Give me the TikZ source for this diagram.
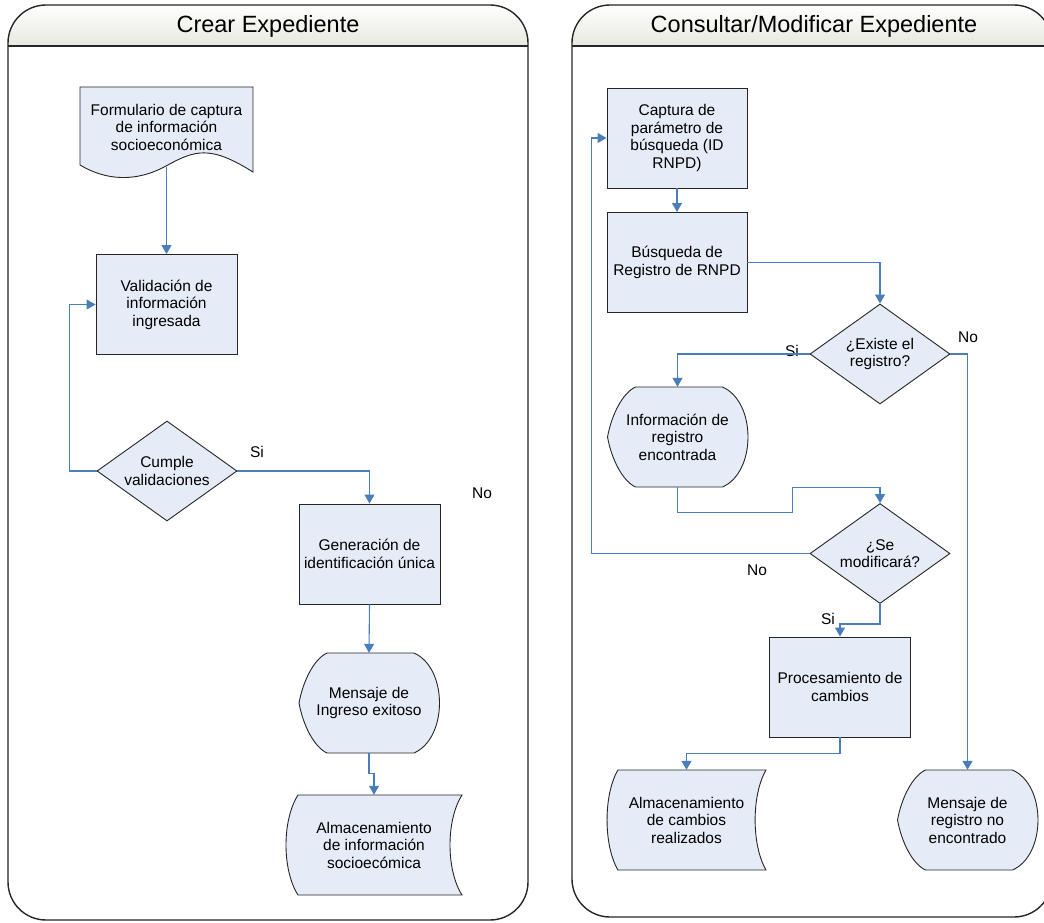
\documentclass[tikz,border=0pt]{standalone}
\usepackage{fontspec}
\setmainfont{Liberation Sans}
\usetikzlibrary{arrows.meta,shapes.geometric}
\definecolor{flowblue}{HTML}{4A7EBB}
\definecolor{boxfill}{HTML}{E6ECF7}
\definecolor{hdrgray}{HTML}{E6E9DE}
\tikzset{
  box/.style={draw=black!85,line width=0.9pt,fill=boxfill,minimum width=141pt,minimum height=100pt,align=center,inner sep=0pt},
  decision/.style={diamond,draw=black!85,line width=0.9pt,fill=boxfill,minimum width=140pt,minimum height=100pt,aspect=1.4,align=center,inner sep=0pt},
  blank/.style={minimum width=141pt,minimum height=100pt,align=center,inner sep=0pt},
  flow/.style={flowblue,line width=1.1pt,->},
  lane/.style={black!85,line width=1.4pt},
  title/.style={font=\fontsize{23.5}{26}\selectfont},
  display/.pic={
    \filldraw[fill=boxfill,draw=black!85,line width=0.9pt] (-42,-50) -- (45,-50)
      .. controls (79,-35) and (79,35) .. (45,50) -- (-42,50)
      .. controls (-55,44) and (-66,22) .. (-70,0)
      .. controls (-66,-22) and (-55,-44) .. (-42,-50) -- cycle;
  },
  stored/.pic={
    \filldraw[fill=boxfill,draw=black!85,line width=0.9pt] (-76,-50) -- (88,-50)
      .. controls (72,-25) and (72,25) .. (88,50) -- (-76,50)
      .. controls (-92,25) and (-92,-25) .. (-76,-50) -- cycle;
  }
}
\begin{document}
\begin{tikzpicture}[x=1pt,y=-1pt,>={Triangle[width=10pt,length=9pt]},
  every node/.style={font=\fontsize{15.5}{17.5}\selectfont}]
  \useasboundingbox (0,0) rectangle (1044,923);

  % 泳道
  \begin{scope}
    \clip[rounded corners=38] (8,5) rectangle (528,920);
    \shade[top color=white,bottom color=hdrgray] (8,5) rectangle (528,46);
  \end{scope}
  \begin{scope}
    \clip[rounded corners=38] (572,5) rectangle (1052,917);
    \shade[top color=white,bottom color=hdrgray] (572,5) rectangle (1052,46);
  \end{scope}
  \draw[lane,rounded corners=38] (8,5) rectangle (528,920);
  \draw[lane,rounded corners=38] (572,5) rectangle (1052,917);
  \draw[lane] (8,46) -- (528,46);
  \draw[lane] (572,46) -- (1052,46);
  \node[title] (crear) at (268,26) {Crear Expediente};
  \node[title] (consultar) at (814,26) {Consultar/Modificar Expediente};

  % 左侧
  \filldraw[fill=boxfill,draw=black!85,line width=0.9pt] (80,87) -- (253,87) -- (253,172)
    .. controls (210,145) and (195,150) .. (166,166)
    .. controls (135,183) and (105,180) .. (80,165) -- cycle;
  \node[blank,minimum width=173pt,minimum height=80pt] (form) at (166.5,127) {Formulario de captura\\de información\\socioeconómica};
  \node[box] (valid) at (166.5,304.5) {Validación de\\información\\ingresada};
  \node[decision] (cumple) at (167,471) {Cumple\\validaciones};
  \node[box] (gen) at (369.5,554) {Generación de\\identificación única};
  \pic at (369,703) {display};
  \node[blank] (msgok) at (369,703) {Mensaje de\\Ingreso exitoso};
  \pic at (374,845) {stored};
  \node[blank,minimum width=176pt] (almac) at (374,845) {Almacenamiento\\de información\\socioecómica};

  % 右侧
  \node[box,minimum width=140pt] (captura) at (677,138) {Captura de\\parámetro de\\búsqueda (ID\\RNPD)};
  \node[box,minimum width=140pt] (busq) at (677,262.5) {Búsqueda de\\Registro de RNPD};
  \node[decision] (existe) at (880,354) {¿Existe el\\registro?};
  \pic at (677.5,437) {display};
  \node[blank] (infreg) at (677.5,437) {Información de\\registro\\encontrada};
  \node[decision] (modif) at (880,553.5) {¿Se\\modificará?};
  \node[box] (procesa) at (840,687) {Procesamiento de\\cambios};
  \pic[xscale=0.903] at (686.5,820) {stored};
  \node[blank,minimum width=159pt] (almcamb) at (686.5,820) {Almacenamiento\\de cambios\\realizados};
  \pic at (967.5,820) {display};
  \node[blank] (noenc) at (967.5,820) {Mensaje de\\registro no\\encontrado};

  % 标签
  \node (si1) at (257,452) {Si};
  \node (no1) at (482,493) {No};
  \node (si2) at (792,351) {Si};
  \node (no2) at (968,337) {No};
  \node (no3) at (757,570) {No};
  \node (si3) at (828,619) {Si};

  % 连线
  \draw[flow] (form.south) -- (valid.north);
  \draw[flow] (cumple.west) -- ++(-27,0) |- (valid.west);
  \draw[flow] (cumple.east) -| (gen.north);
  \draw[flow] (gen.south) -- (msgok.north);
  \draw[flow] (msgok.south) -- ++(0,20) -| (almac.north);

  \draw[flow] (captura.south) -- (busq.north);
  \draw[flow] (busq.east) -| (existe.north);
  \draw[flow] (existe.west) -| (infreg.north);
  \draw[flow] (existe.east) -| (noenc.north);
  \draw[flow] (infreg.south) -- ++(0,25) -- ++(115,0) -- ++(0,-25) -| (modif.north);
  \draw[flow] (modif.west) -- ++(-218,0) |- (captura.west);
  \draw[flow] (modif.south) -- ++(0,20) -| (procesa.north);
  \draw[flow] (procesa.south) -- ++(0,16) -| (almcamb.north);
\end{tikzpicture}
\end{document}
